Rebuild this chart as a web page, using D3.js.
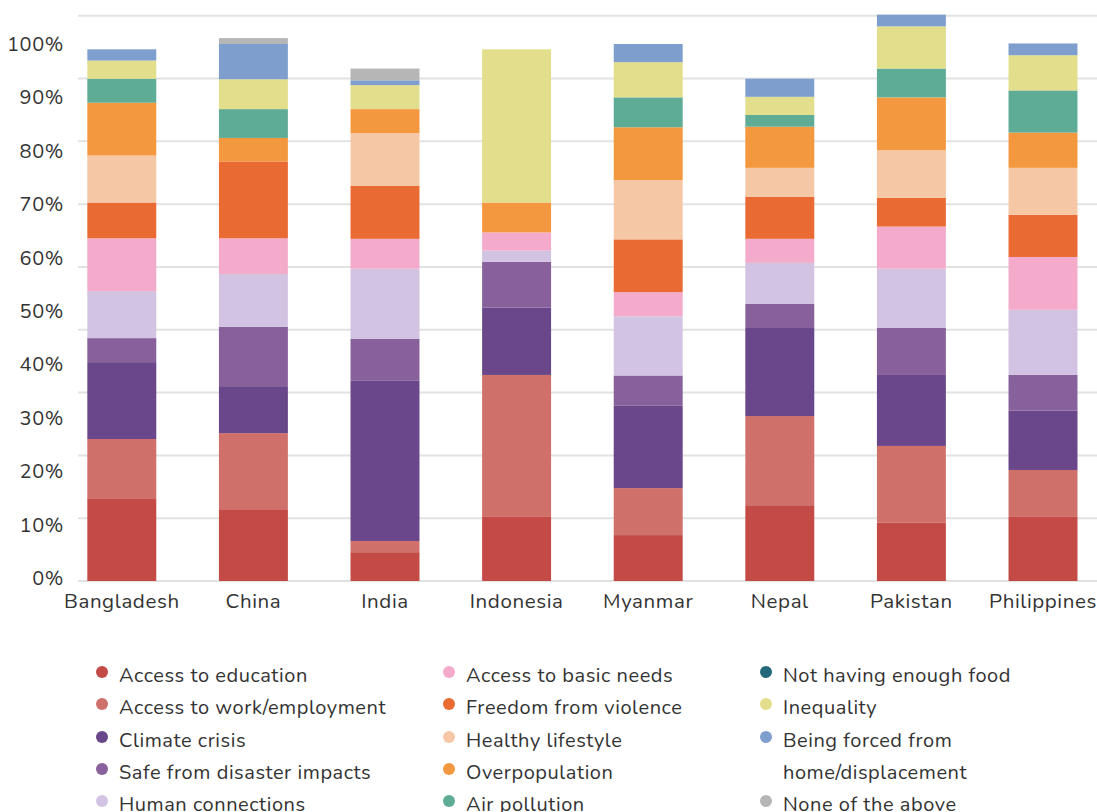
<!DOCTYPE html>
<html>
<head>
<meta charset="utf-8">
<script src="https://cdn.jsdelivr.net/npm/d3@7"></script>
<style>
  html, body { margin: 0; padding: 0; background: #fff; }
  svg { display: block; font-family: "Nunito", "Lato", "Open Sans", sans-serif; }
</style>
</head>
<body>
<svg id="chart" width="1097" height="812"></svg>
<script>
// Countries along the x axis
const countries = ["Bangladesh", "China", "India", "Indonesia", "Myanmar", "Nepal", "Pakistan", "Philippines"];

// Share of respondents (%) per concern, one array per concern, in country order
const accessToEducation   = [15.5, 13.3, 5.4, 12.0, 8.6, 14.2, 10.9, 12.0];
const accessToWork        = [11.1, 14.4, 2.1, 26.6, 8.8, 16.7, 14.4, 8.8];
const climateCrisis       = [14.4, 8.8, 30.0, 12.6, 15.5, 16.5, 13.3, 11.1];
const safeFromDisaster    = [4.5, 11.1, 7.9, 8.6, 5.6, 4.5, 8.8, 6.7];
const humanConnections    = [8.8, 9.9, 13.1, 2.1, 11.1, 7.7, 11.1, 12.2];
const accessToBasicNeeds  = [9.9, 6.7, 5.6, 3.4, 4.5, 4.5, 7.9, 9.9];
const freedomFromViolence = [6.7, 14.4, 9.9, 0, 9.9, 7.9, 5.4, 7.9];
const healthyLifestyle    = [8.8, 0, 9.9, 0, 11.1, 5.4, 8.9, 8.8];
const overpopulation      = [9.9, 4.4, 4.5, 5.6, 9.9, 7.7, 9.9, 6.6];
const airPollution        = [4.5, 5.4, 0, 0, 5.6, 2.2, 5.4, 7.9];
const notEnoughFood       = [0, 0, 0, 0, 0, 0, 0, 0];
const inequality          = [3.4, 5.6, 4.5, 28.7, 6.6, 3.4, 7.9, 6.6];
const forcedFromHome      = [2.1, 6.6, 0.9, 0, 3.4, 3.4, 2.2, 2.2];
const noneOfTheAbove      = [0, 1.1, 2.2, 0, 0, 0, 0, 0];

const seriesNames = [
  "Access to education", "Access to work/employment", "Climate crisis",
  "Safe from disaster impacts", "Human connections", "Access to basic needs",
  "Freedom from violence", "Healthy lifestyle", "Overpopulation", "Air pollution",
  "Not having enough food", "Inequality", "Being forced from home/displacement",
  "None of the above"
];
const seriesValues = [
  accessToEducation, accessToWork, climateCrisis, safeFromDisaster, humanConnections,
  accessToBasicNeeds, freedomFromViolence, healthyLifestyle, overpopulation, airPollution,
  notEnoughFood, inequality, forcedFromHome, noneOfTheAbove
];
const seriesColors = [
  "#c34a45", "#d0706b", "#69478a", "#87609c", "#d2c3e2", "#f4aaca", "#e96b33",
  "#f6c7a4", "#f4983f", "#5fac96", "#23677a", "#e2de8b", "#7e9fcd", "#b6b6b6"
];

// Axis tick labels (percent)
const yTickValues = [0, 10, 20, 30, 40, 50, 60, 70, 80, 90, 100];
const yMax = 105.9;
const gridCount = 9;

const FONT = "\"Nunito\", \"Lato\", sans-serif";
const svg = d3.select("#chart");

// Build rows for d3.stack
const rows = countries.map((c, i) => {
  const r = { country: c };
  seriesNames.forEach((s, k) => { r[s] = seriesValues[k][i]; });
  return r;
});
const stacked = d3.stack().keys(seriesNames)(rows);

const x = d3.scaleBand()
  .domain(countries)
  .range([56, 1108.8])
  .paddingInner(0.476)
  .paddingOuter(0.238);

const y = d3.scaleLinear().domain([0, yMax]).range([581, 15.7]);

// Horizontal grid lines
const gridValues = d3.range(gridCount + 1).map(i => i * yMax / gridCount);
svg.append("g")
  .selectAll("line")
  .data(gridValues)
  .join("line")
  .attr("x1", 78).attr("x2", 1097)
  .attr("y1", d => y(d)).attr("y2", d => y(d))
  .attr("stroke", "#e2e2e2")
  .attr("stroke-width", 2);

// Stacked bars
const layers = svg.append("g")
  .selectAll("g")
  .data(stacked)
  .join("g")
  .attr("fill", (d, i) => seriesColors[i]);

layers.selectAll("rect")
  .data(d => d.map(p => ({ p, country: p.data.country })))
  .join("rect")
  .attr("x", d => x(d.country))
  .attr("width", x.bandwidth())
  .attr("y", d => y(d.p[1]))
  .attr("height", d => Math.max(0, y(d.p[0]) - y(d.p[1])));

// Y axis labels
const yAxis = svg.append("g")
  .attr("transform", "translate(64,-3)")
  .call(d3.axisLeft(y).tickValues(yTickValues).tickSize(0).tickPadding(0).tickFormat(d => d + "%"));
yAxis.select(".domain").remove();
yAxis.selectAll("text")
  .attr("fill", "#333")
  .style("font-size", "20px")
  .style("letter-spacing", "0.6px")
  .style("font-family", FONT);

// X axis labels
const xAxis = svg.append("g")
  .attr("transform", "translate(0,608)")
  .call(d3.axisBottom(x).tickSize(0).tickPadding(0));
xAxis.select(".domain").remove();
xAxis.selectAll("text")
  .attr("fill", "#333")
  .attr("dy", "0")
  .style("font-size", "20.5px")
  .style("letter-spacing", "0.6px")
  .style("font-family", FONT);

// Legend: three columns, stacked in series order
const legendCols = [102, 449, 766];
const rowY = [675, 707, 740, 772, 804];
const legendItems = [
  { s: 0, col: 0, row: 0 }, { s: 1, col: 0, row: 1 }, { s: 2, col: 0, row: 2 },
  { s: 3, col: 0, row: 3 }, { s: 4, col: 0, row: 4 },
  { s: 5, col: 1, row: 0 }, { s: 6, col: 1, row: 1 }, { s: 7, col: 1, row: 2 },
  { s: 8, col: 1, row: 3 }, { s: 9, col: 1, row: 4 },
  { s: 10, col: 2, row: 0 }, { s: 11, col: 2, row: 1 }, { s: 12, col: 2, row: 2 },
  { s: 13, col: 2, row: 4 }
];
const legend = svg.append("g");
const li = legend.selectAll("g")
  .data(legendItems)
  .join("g")
  .attr("transform", d => `translate(${legendCols[d.col]},${rowY[d.row]})`);
li.append("circle")
  .attr("cx", 0).attr("cy", -3).attr("r", 6)
  .attr("fill", d => seriesColors[d.s]);
li.append("text")
  .attr("x", 17)
  .attr("y", 7)
  .attr("fill", "#333")
  .style("font-size", "20px")
  .style("letter-spacing", "0.55px")
  .each(function (d) {
    const name = seriesNames[d.s];
    const t = d3.select(this);
    if (name === "Being forced from home/displacement") {
      t.append("tspan").attr("x", 17).text("Being forced from");
      t.append("tspan").attr("x", 17).attr("dy", 32.3).text("home/displacement");
    } else {
      t.text(name);
    }
  });
</script>
</body>
</html>
